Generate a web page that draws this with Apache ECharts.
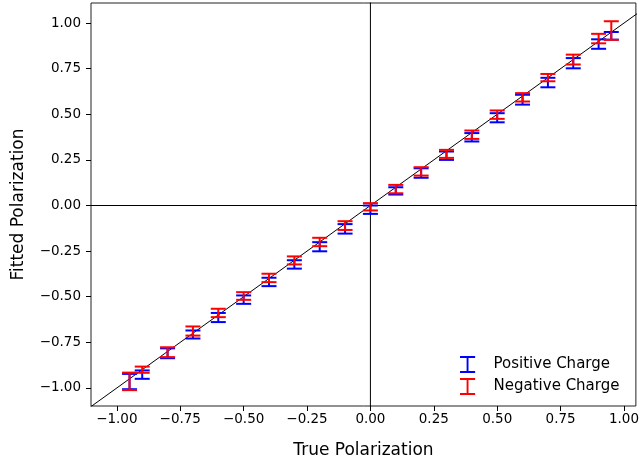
<!DOCTYPE html>
<html><head><meta charset="utf-8">
<script src="https://cdn.jsdelivr.net/npm/echarts@6/dist/echarts.min.js"></script>
<style>html,body{margin:0;padding:0;background:#fff}#c{width:642px;height:466px}</style>
</head><body><div id="c"></div>
<script>
const trueVals = [-0.95,-0.9,-0.8,-0.7,-0.6,-0.5,-0.4,-0.3,-0.2,-0.1,0,0.1,0.2,0.3,0.4,0.5,0.6,0.7,0.8,0.9,0.95];
const posFit = [-0.965,-0.927,-0.81,-0.707,-0.614,-0.516,-0.419,-0.323,-0.226,-0.128,-0.023,0.08,0.178,0.273,0.374,0.481,0.58,0.674,0.78,0.885,0.93];
const posErr = [0.042,0.023,0.027,0.022,0.025,0.023,0.023,0.023,0.025,0.026,0.023,0.02,0.026,0.023,0.023,0.025,0.027,0.026,0.028,0.026,0.021];
const negFit = [-0.964,-0.9,-0.804,-0.688,-0.589,-0.496,-0.397,-0.301,-0.2,-0.11,-0.007,0.09,0.187,0.283,0.388,0.498,0.593,0.701,0.8,0.915,0.959];
const negErr = [0.048,0.017,0.027,0.025,0.023,0.021,0.023,0.022,0.023,0.024,0.02,0.023,0.023,0.022,0.023,0.023,0.023,0.02,0.027,0.026,0.051];
const tickVals = [-1,-0.75,-0.5,-0.25,0,0.25,0.5,0.75,1];

const FONT = 'DejaVu Sans';
function fmt(v){ const s = Math.abs(v).toFixed(2); return (v < -1e-9 ? '\u2212' : '') + s; }
function errData(fit, err){ return trueVals.map((x,i)=>[x, fit[i]-err[i], fit[i]+err[i]]); }
function renderErr(color){
  return function(params, api){
    const x = api.value(0), lo = api.value(1), hi = api.value(2);
    const p1 = api.coord([x, lo]), p2 = api.coord([x, hi]);
    const hw = 7.5;
    const st = {stroke: color, lineWidth: 2};
    return {type:'group', children:[
      {type:'line', shape:{x1:p1[0], y1:p1[1], x2:p2[0], y2:p2[1]}, style:st},
      {type:'line', shape:{x1:p1[0]-hw, y1:p1[1], x2:p1[0]+hw, y2:p1[1]}, style:st},
      {type:'line', shape:{x1:p2[0]-hw, y1:p2[1], x2:p2[0]+hw, y2:p2[1]}, style:st}
    ]};
  };
}
const ibeam = 'path://M0,0h16v2h-7v14h7v2h-16v-2h7v-14h-7z';
const chart = echarts.init(document.getElementById('c'), null, {renderer:'canvas'});
chart.setOption({
  animation: false,
  grid: {left: 91, right: 5, top: 3, bottom: 60, show: true, borderColor: '#222', borderWidth: 1, backgroundColor: 'transparent'},
  xAxis: {
    type: 'value', min: -1.102, max: 1.047,
    name: 'True Polarization', nameLocation: 'middle', nameGap: 36,
    nameTextStyle: {fontFamily: FONT, fontSize: 17, color: '#000'},
    axisLine: {show: false, onZero: false},
    axisTick: {show: true, length: 5, inside: false, customValues: tickVals, lineStyle: {color: '#000'}},
    axisLabel: {customValues: tickVals, formatter: fmt, fontFamily: FONT, fontSize: 13.5, color: '#000', margin: 6},
    splitLine: {show: false}
  },
  yAxis: {
    type: 'value', min: -1.099, max: 1.11,
    name: 'Fitted Polarization', nameLocation: 'middle', nameGap: 64, nameRotate: 90,
    nameTextStyle: {fontFamily: FONT, fontSize: 17, color: '#000'},
    axisLine: {show: false, onZero: false},
    axisTick: {show: true, length: 5, customValues: tickVals, lineStyle: {color: '#000'}},
    axisLabel: {customValues: tickVals, formatter: fmt, fontFamily: FONT, fontSize: 13.5, color: '#000', margin: 10},
    splitLine: {show: false}
  },
  legend: {
    data: ['Positive Charge', 'Negative Charge'],
    orient: 'vertical', left: 460, top: 356,
    itemWidth: 16, itemHeight: 17, itemGap: 5, icon: ibeam,
    textStyle: {fontFamily: FONT, fontSize: 15, color: '#000', padding: [0,0,0,13]},
    padding: 0
  },
  series: [
    {type:'line', silent:true, symbol:'none', data:[[-1.2,-1.2],[1.2,1.2]], lineStyle:{color:'#000', width:1}, z:1},
    {type:'line', silent:true, symbol:'none', data:[[-1.2,0],[1.2,0]], lineStyle:{color:'#000', width:1}, z:1},
    {type:'line', silent:true, symbol:'none', data:[[0,-1.2],[0,1.2]], lineStyle:{color:'#000', width:1}, z:1},
    {name:'Positive Charge', type:'custom', renderItem: renderErr('#0000ff'), itemStyle:{color:'#0000ff'}, encode:{x:0, y:[1,2]}, data: errData(posFit, posErr), z:2},
    {name:'Negative Charge', type:'custom', renderItem: renderErr('#ff0000'), itemStyle:{color:'#ff0000'}, encode:{x:0, y:[1,2]}, data: errData(negFit, negErr), z:3}
  ]
});
</script></body></html>
